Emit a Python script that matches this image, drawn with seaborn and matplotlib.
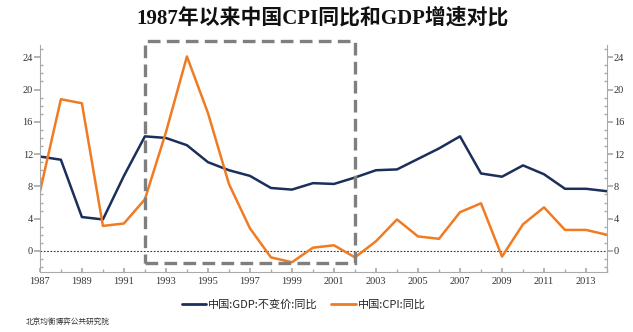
import numpy as np
import pandas as pd
import matplotlib
matplotlib.use("Agg")
import matplotlib.pyplot as plt
import seaborn as sns
from matplotlib.patches import Rectangle
from matplotlib.ticker import MultipleLocator
from matplotlib.lines import Line2D

years = list(range(1987, 2015))
gdp = [11.7, 11.3, 4.2, 3.9, 9.3, 14.2, 14.0, 13.1, 11.0, 10.0, 9.3, 7.8, 7.6, 8.4,
       8.3, 9.1, 10.0, 10.1, 11.4, 12.7, 14.2, 9.6, 9.2, 10.6, 9.5, 7.7, 7.7, 7.4]
cpi = [7.3, 18.8, 18.3, 3.1, 3.4, 6.4, 14.7, 24.1, 17.1, 8.3, 2.8, -0.8, -1.4, 0.4,
       0.7, -0.8, 1.2, 3.9, 1.8, 1.5, 4.8, 5.9, -0.7, 3.3, 5.4, 2.6, 2.6, 2.0]
series_names = ["中国:GDP:不变价:同比", "中国:CPI:同比"]
title = "1987年以来中国CPI同比和GDP增速对比"
source = "北京均衡博弈公共研究院"
y_ticks = [0, 4, 8, 12, 16, 20, 24]
x_ticks = list(range(1987, 2014, 2))

df = pd.DataFrame({
    "year": years * 2,
    "value": gdp + cpi,
    "series": [series_names[0]] * len(years) + [series_names[1]] * len(years),
})

sns.set_theme(style="white")
plt.rcParams["font.family"] = ["Noto Sans CJK SC", "DejaVu Sans"]

fig = plt.figure(figsize=(6.33, 3.32), dpi=100)
ax = fig.add_axes([0.063, 0.181, 0.896, 0.683])
palette = {series_names[0]: "#1a2f5a", series_names[1]: "#f07b22"}
sns.lineplot(data=df, x="year", y="value", hue="series", palette=palette,
             linewidth=1.8, ax=ax, legend=False)

ax.set_xlim(1987, 2014)
ax.set_ylim(-2.6, 25.5)
ax.set_xlabel("")
ax.set_ylabel("")
ax.axhline(0, color="#333333", linestyle=(0, (1.5, 1.5)), linewidth=0.8, zorder=1)

# dashed highlight box
rect = Rectangle((1992, -1.5), 10, 27.5, fill=False, edgecolor="#7f7f7f",
                 linestyle=(0, (3.8, 1.9)), linewidth=2.4, clip_on=False, zorder=5)
ax.add_patch(rect)

ax.spines["top"].set_visible(False)
for s in ["left", "right", "bottom"]:
    ax.spines[s].set_visible(True)
    ax.spines[s].set_color("#aaaaaa")
    ax.spines[s].set_linewidth(0.8)

ax.set_yticks(y_ticks)
ax.set_xticks(x_ticks)
ax.yaxis.set_minor_locator(MultipleLocator(1))
ax.xaxis.set_minor_locator(MultipleLocator(1))
serif = ["Liberation Serif", "DejaVu Serif"]
ax.tick_params(axis="both", which="both", color="#aaaaaa",
               labelsize=7.5, labelcolor="#333333")
ax.tick_params(axis="y", which="major", direction="out", length=4, left=True,
               right=True, labelleft=True, labelright=True, pad=1)
ax.tick_params(axis="y", which="minor", direction="in", length=2, left=True, right=True)
ax.tick_params(axis="x", which="major", direction="in", length=3, bottom=True, pad=4)
ax.tick_params(axis="x", which="minor", direction="in", length=2, bottom=True)
for lab in ax.get_xticklabels() + ax.get_yticklabels():
    lab.set_fontfamily(serif)
for t in ax.yaxis.get_major_ticks():
    t.label2.set_fontfamily(serif)
    t.label2.set_fontsize(7.5)
    t.label2.set_color("#333333")

fig.text(0.51, 0.945, title, ha="center", va="center", fontsize=15,
         fontweight="bold", family=["Liberation Serif", "Noto Sans CJK SC", "DejaVu Sans"],
         color="#111111")

handles = [Line2D([], [], color=palette[n], linewidth=2) for n in series_names]
fig.legend(handles, series_names, loc="center", bbox_to_anchor=(0.48, 0.082),
           ncol=2, frameon=False, handlelength=2.2, columnspacing=1.2,
           handletextpad=0.2, prop={"family": ["Noto Sans CJK SC", "DejaVu Sans"], "size": 8})

fig.text(0.04, 0.028, source, ha="left", va="center", fontsize=5.5, color="#333333",
         family=["Noto Sans CJK SC", "DejaVu Sans"])

fig.savefig("out.png", dpi=100)
